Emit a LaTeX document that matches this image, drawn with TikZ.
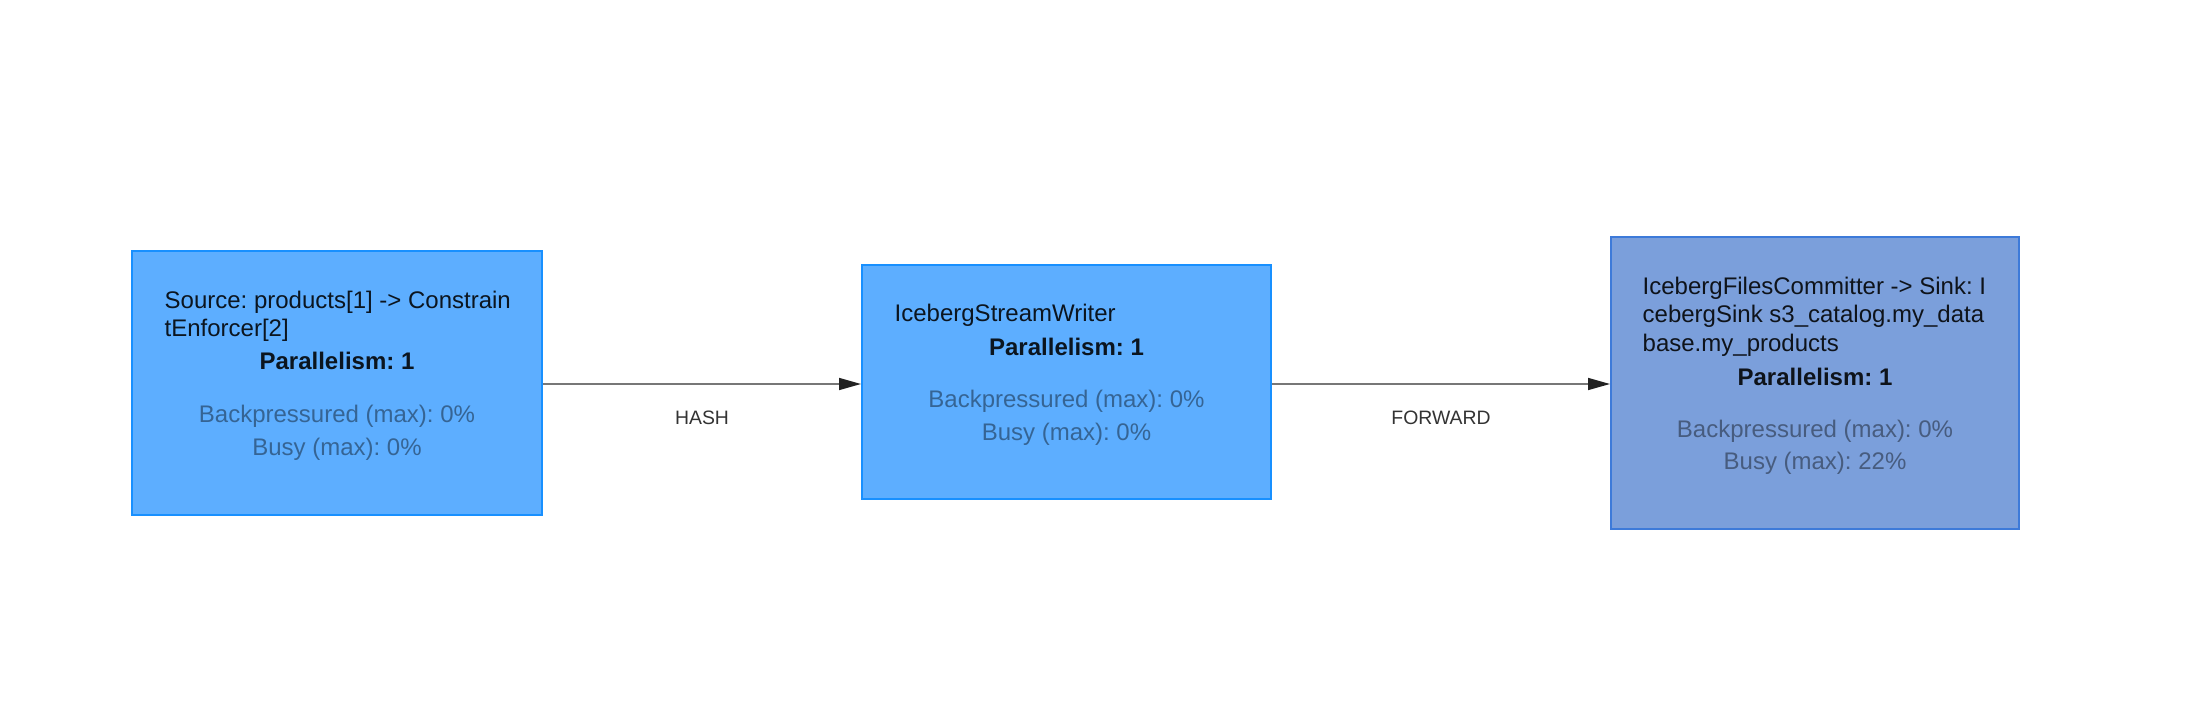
\documentclass[tikz,border=0pt]{standalone}
\usepackage{fontspec}
\setmainfont{Liberation Sans}
\frenchspacing
\usetikzlibrary{arrows.meta}
\definecolor{opfill}{HTML}{5DAEFF}
\definecolor{opline}{HTML}{1890FF}
\definecolor{busyfill}{HTML}{7B9FDB}
\definecolor{busyline}{HTML}{3D7AD9}
\definecolor{edgeline}{HTML}{777777}
\definecolor{edgetip}{HTML}{222222}
\definecolor{labeltxt}{HTML}{333333}
\tikzset{
  opbox/.style={draw=opline, fill=opfill, line width=1pt, inner sep=0pt},
  busybox/.style={draw=busyline, fill=busyfill, line width=1pt, inner sep=0pt},
  title/.style={inner sep=0pt, anchor=base west, text=black, text opacity=0.88, font=\fontsize{12}{14}\selectfont\frenchspacing},
  para/.style={inner sep=0pt, anchor=base, text=black, text opacity=0.88, font=\fontsize{12}{14}\selectfont\bfseries\frenchspacing},
  metric/.style={inner sep=0pt, anchor=base, text=black, text opacity=0.42, font=\fontsize{12}{14}\selectfont\frenchspacing},
  edge/.style={draw=edgeline, line width=0.8pt, -{Triangle[length=11pt,width=6pt,color=edgetip]}},
  elabel/.style={inner sep=0pt, anchor=base, text=labeltxt, font=\fontsize{9.7}{11}\selectfont},
}
\begin{document}
\begin{tikzpicture}[x=0.5pt,y=-0.5pt]
\useasboundingbox[fill=white] (0,0) rectangle (2191,717);
% boxes
\node[opbox, minimum width=205pt, minimum height=132pt] (src) at (337,383) {};
\node[opbox, minimum width=204.5pt, minimum height=117pt] (wri) at (1066.5,382) {};
\node[busybox, minimum width=204pt, minimum height=146pt] (com) at (1815,383) {};
% box 1 text
\node[title] (s1) at (164.3,308.3) {Source: products[1] -> Constrain};
\node[title] (s2) at (164.3,336.7) {tEnforcer[2]};
\node[para] (sp) at (337,369.3) {Parallelism: 1};
\node[metric] (sb) at (337,422.7) {Backpressured (max): 0\%};
\node[metric] (sy) at (337,455) {Busy (max): 0\%};
% box 2 text
\node[title] (w1) at (894.3,321.7) {IcebergStreamWriter};
\node[para] (wp) at (1066.5,355) {Parallelism: 1};
\node[metric] (wb) at (1066.5,407.7) {Backpressured (max): 0\%};
\node[metric] (wy) at (1066.5,440) {Busy (max): 0\%};
% box 3 text
\node[title] (c1) at (1642.3,294) {IcebergFilesCommitter -> Sink: I};
\node[title] (c2) at (1642.3,322.7) {cebergSink s3\_catalog.my\_data};
\node[title] (c3) at (1642.3,351) {base.my\_products};
\node[para] (cp) at (1815,385) {Parallelism: 1};
\node[metric] (cb) at (1815,437) {Backpressured (max): 0\%};
\node[metric] (cy) at (1815,469.3) {Busy (max): 22\%};
% edges
\draw[edge] (src.east |- 0,384) -- (wri.west |- 0,384) node[elabel, midway, yshift=-20.3pt] (l1) {HASH};
\draw[edge] (wri.east |- 0,384) -- (com.west |- 0,384) node[elabel, midway, yshift=-20.3pt] (l2) {FORWARD};
\end{tikzpicture}
\end{document}
